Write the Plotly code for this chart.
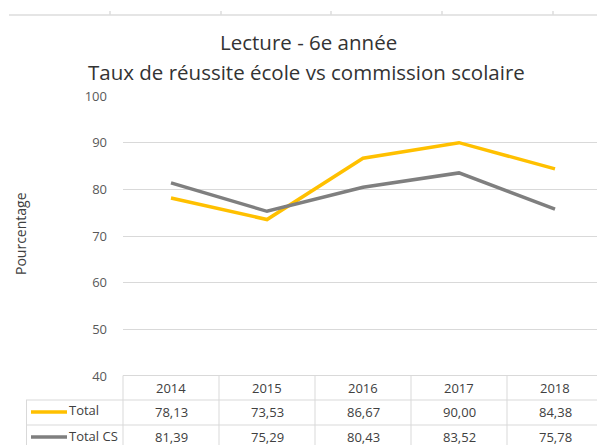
import plotly.graph_objects as go

years = ["2014", "2015", "2016", "2017", "2018"]
total = [78.13, 73.53, 86.67, 90.00, 84.38]
total_cs = [81.39, 75.29, 80.43, 83.52, 75.78]
series_names = ["Total", "Total CS"]
title_line1 = "Lecture - 6e année"
title_line2 = "Taux de réussite école vs commission scolaire"
y_title = "Pourcentage"

YELLOW = "#FFC000"
GRAY = "#7F7F7F"
GRID = "#D9D9D9"
TXT = "#404040"
FONT = "Open Sans"

OFF = 8  # page body margin offset
W, H = 605, 445
PW, PH = 480, 280
L, T = 123 - OFF, 96 - OFF
R, B = W - L - PW, H - T - PH


def px(x):
    return (x - OFF - L) / PW


def py(y):
    return (T + PH - (y - OFF)) / PH


fig = go.Figure()
for name, vals, col in [(series_names[0], total, YELLOW), (series_names[1], total_cs, GRAY)]:
    fig.add_trace(go.Scatter(x=years, y=vals, mode="lines", name=name,
                             line=dict(color=col, width=3.5), showlegend=False))

shapes = []
ann = []
line_style = dict(color=GRID, width=1)

# table borders (reference pixel coordinates)
col_edges = [123 + i * PW / 5 for i in range(6)]
shapes.append(dict(type="line", xref="paper", yref="paper", x0=px(123), x1=px(603), y0=py(375.5), y1=py(375.5), line=line_style))
for yy in [400, 425]:
    shapes.append(dict(type="line", xref="paper", yref="paper", x0=px(26), x1=px(603), y0=py(yy), y1=py(yy), line=line_style))
for xe in col_edges:
    shapes.append(dict(type="line", xref="paper", yref="paper", x0=px(xe), x1=px(xe), y0=py(375.5), y1=py(452), line=line_style))
shapes.append(dict(type="line", xref="paper", yref="paper", x0=px(26.5), x1=px(26.5), y0=py(400), y1=py(452), line=line_style))

# top cut-off table remnant
shapes.append(dict(type="line", xref="paper", yref="paper", x0=px(9), x1=px(613), y0=py(15), y1=py(15), line=dict(color="#DDDDDD", width=1.5)))
for xt in [110, 221, 331, 442, 553]:
    shapes.append(dict(type="line", xref="paper", yref="paper", x0=px(xt), x1=px(xt), y0=py(11), y1=py(15), line=dict(color="#DDDDDD", width=1.5)))

# legend keys in table
for yy, col in [(412, YELLOW), (437, GRAY)]:
    shapes.append(dict(type="line", xref="paper", yref="paper", x0=px(31), x1=px(67), y0=py(yy), y1=py(yy), line=dict(color=col, width=3.5)))

tfont = dict(family=FONT, size=13, color=TXT)
for i, yv in enumerate(years):
    cx = (col_edges[i] + col_edges[i + 1]) / 2
    ann.append(dict(x=px(cx), y=py(388), xref="paper", yref="paper", text=yv, showarrow=False, font=tfont, xanchor="center", yanchor="middle"))
    ann.append(dict(x=px(cx), y=py(412), xref="paper", yref="paper", text=f"{total[i]:.2f}".replace(".", ","), showarrow=False, font=tfont, xanchor="center", yanchor="middle"))
    ann.append(dict(x=px(cx), y=py(437), xref="paper", yref="paper", text=f"{total_cs[i]:.2f}".replace(".", ","), showarrow=False, font=tfont, xanchor="center", yanchor="middle"))
ann.append(dict(x=px(67), y=py(410), xref="paper", yref="paper", text=series_names[0], showarrow=False, font=tfont, xanchor="left", yanchor="middle"))
ann.append(dict(x=px(67), y=py(436), xref="paper", yref="paper", text=series_names[1], showarrow=False, font=tfont, xanchor="left", yanchor="middle"))

# titles
title_font = dict(family=FONT, size=20.5, color="#333333")
ann.append(dict(x=px(308), y=py(42), xref="paper", yref="paper", text=title_line1, showarrow=False, font=title_font, xanchor="center", yanchor="middle"))
ann.append(dict(x=px(306), y=py(72), xref="paper", yref="paper", text=title_line2, showarrow=False, font=title_font, xanchor="center", yanchor="middle"))
ann.append(dict(x=px(20), y=py(234), xref="paper", yref="paper", text=y_title, showarrow=False, textangle=-90, font=dict(family=FONT, size=14, color=TXT), xanchor="center", yanchor="middle"))

fig.update_layout(
    width=W, height=H,
    margin=dict(l=L, r=R, t=T, b=B),
    paper_bgcolor="white", plot_bgcolor="white",
    shapes=shapes, annotations=ann,
    xaxis=dict(type="category", range=[-0.5, 4.5], showticklabels=False, showgrid=False, zeroline=False, showline=False, ticks=""),
    yaxis=dict(range=[40, 100], dtick=10, tick0=40, showgrid=True, gridcolor=GRID, gridwidth=1, zeroline=False, showline=False,
               ticks="", ticklabelstandoff=15, tickfont=dict(family=FONT, size=13, color="#595959")),
)

fig.write_html("out.html")
